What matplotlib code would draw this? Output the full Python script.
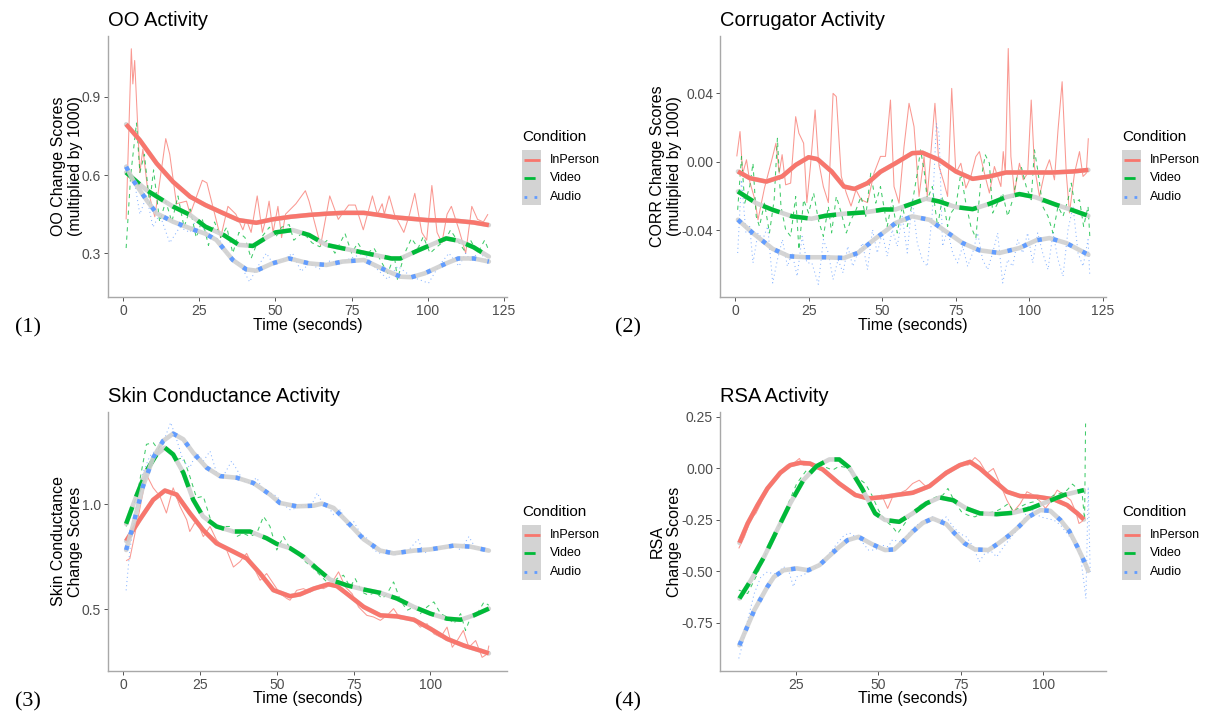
import matplotlib
matplotlib.use("Agg")
import matplotlib.pyplot as plt
from matplotlib.lines import Line2D
from matplotlib.patches import Rectangle

plt.rcParams['font.family'] = ['Liberation Sans', 'DejaVu Sans']

W, H = 1207, 718

conditions = ["InPerson", "Video", "Audio"]
colors = {"InPerson": "#F8766D", "Video": "#00BA38", "Audio": "#619CFF"}

# ---- panel 1: OO (time, value) vertices ----
oo_raw_inperson = [(1,0.43),(2.7,1.085),(3.2,0.95),(3.8,1.04),(5.5,0.61),(6.5,0.70),(8,0.55),(10.4,0.44),(14,0.74),(15.3,0.68),(17.5,0.49),(20.8,0.50),(22,0.45),(26,0.58),(27.5,0.57),(32,0.36),(34.4,0.48),(37,0.45),(39.3,0.39),(40.4,0.43),(42,0.38),(44,0.52),(45.7,0.38),(47,0.44),(47.9,0.50),(49.2,0.38),(50.8,0.48),(52,0.36),(53.3,0.45),(56.7,0.49),(59.8,0.54),(61,0.50),(64.8,0.33),(67.8,0.52),(70.6,0.43),(74,0.485),(76.2,0.485),(78.8,0.39),(81.8,0.52),(83.4,0.45),(85,0.49),(85.7,0.45),(87.3,0.52),(89,0.45),(92.1,0.38),(94,0.45),(95.7,0.53),(98,0.38),(99.6,0.35),(101.3,0.56),(103,0.38),(104.6,0.34),(106.3,0.45),(107.7,0.48),(110.2,0.39),(112.4,0.30),(114.4,0.48),(116.3,0.43),(118.2,0.42),(119.7,0.45)]
oo_raw_video = [(1,0.32),(2.5,0.60),(4.4,0.80),(5.5,0.61),(7,0.68),(8.7,0.49),(10,0.62),(12,0.42),(14,0.50),(16,0.42),(18,0.52),(20,0.40),(22,0.47),(24,0.36),(26,0.43),(28,0.33),(30,0.42),(32,0.36),(34,0.40),(36,0.30),(38,0.38),(40,0.36),(42,0.28),(44,0.34),(46,0.37),(48,0.40),(50,0.36),(52,0.40),(54.5,0.41),(56,0.35),(59,0.38),(62,0.34),(64.5,0.325),(67,0.35),(69.5,0.30),(72.8,0.376),(75,0.30),(77,0.34),(79.5,0.294),(82.3,0.32),(84.6,0.27),(86.8,0.223),(89,0.29),(90,0.20),(92.4,0.30),(94.6,0.357),(96.8,0.32),(98.5,0.364),(100.7,0.30),(103,0.325),(105.7,0.35),(107.4,0.389),(109.6,0.35),(112,0.31),(114,0.35),(116.3,0.30),(118.6,0.35),(120,0.31)]
oo_raw_audio = [(1,0.64),(3.8,0.57),(5.5,0.45),(7.7,0.52),(9.8,0.40),(12,0.45),(15.3,0.34),(18.6,0.40),(21.9,0.38),(24,0.43),(27.3,0.38),(31.7,0.35),(33.9,0.30),(38.3,0.26),(41.5,0.19),(43.7,0.24),(47,0.30),(49.2,0.26),(52.2,0.27),(55.6,0.30),(58.4,0.23),(61,0.26),(64.5,0.24),(67.8,0.27),(71.2,0.26),(74.5,0.28),(79,0.30),(82.3,0.25),(86.8,0.20),(90.1,0.25),(94.6,0.21),(100.2,0.185),(103.5,0.25),(106.9,0.30),(110.2,0.25),(112.4,0.30),(114.1,0.27),(116.9,0.31),(119.7,0.26)]
oo_fit_inperson = [(1,0.795),(5.5,0.734),(11,0.645),(16.4,0.574),(22,0.517),(27,0.485),(33,0.453),(38,0.427),(43.7,0.417),(49,0.43),(55,0.44),(61,0.447),(67,0.452),(72,0.455),(79,0.455),(84,0.447),(89,0.438),(95,0.432),(100,0.427),(105,0.426),(109,0.425),(115,0.418),(120,0.408)]
oo_fit_video = [(1,0.61),(7.7,0.542),(16.4,0.479),(22,0.447),(27,0.402),(33,0.37),(38,0.332),(42.6,0.328),(47,0.36),(50,0.38),(55.6,0.389),(61,0.37),(66.7,0.332),(72,0.319),(81,0.297),(88,0.28),(91,0.28),(97,0.312),(106,0.357),(110,0.348),(115,0.323),(120,0.287)]
oo_fit_audio = [(1,0.632),(3.3,0.58),(7.7,0.504),(11,0.453),(16.4,0.421),(23.5,0.389),(27,0.375),(30.6,0.351),(36,0.274),(40.4,0.238),(43.7,0.233),(49,0.261),(54.5,0.28),(61,0.261),(66.7,0.255),(72,0.268),(79,0.274),(87,0.23),(91,0.21),(94.6,0.208),(99,0.223),(106,0.261),(110,0.28),(115,0.28),(120,0.268)]

# ---- panel 2: Corrugator ----
corr_raw_inperson = [(0.6,0.003),(1.7,0.0175),(2.6,-0.007),(3.9,0.001),(5,-0.0117),(6.7,-0.022),(7.8,-0.034),(10,-0.0155),(12.2,-0.001),(13.9,0.0107),(15,-0.0068),(16,0.004),(17.2,-0.0136),(18.9,-0.0126),(20.6,0.0262),(21.7,0.0165),(23.3,0.0107),(24.4,-0.024),(25.6,-0.003),(27.2,0.0301),(28.3,0.001),(30,-0.0146),(31.7,-0.024),(33.3,0.0398),(34.4,0.0379),(36.1,-0.0087),(37.8,-0.0184),(39.4,-0.026),(41.1,-0.0165),(42.8,-0.0223),(45,-0.024),(47.2,-0.0068),(49.4,0.003),(51.1,0.003),(52.8,0.0359),(54,-0.0146),(55.7,-0.0243),(57.4,0.0087),(59.1,0.034),(60.8,0.0204),(62.5,-0.0204),(64.2,0.0029),(65.3,-0.0204),(67.9,0.034),(69.3,-0.0029),(71,-0.0126),(72.2,-0.0204),(73.6,0.0427),(75,-0.0068),(76.7,-0.001),(78.4,-0.0155),(80.1,-0.0087),(81.8,0.0029),(83,0.0058),(84.7,-0.0068),(86.4,-0.0184),(88.1,-0.0029),(90.3,-0.0146),(91.1,0.0058),(91.8,-0.0068),(92.8,0.066),(93.7,0.0029),(94.9,-0.0184),(96.6,-0.001),(97.9,-0.0107),(99.4,-0.0068),(100.6,0.0359),(101.7,-0.0029),(103.4,-0.0204),(105.1,-0.0068),(106.8,0.001),(108.5,-0.0107),(109.7,0.0184),(111.1,0.0466),(112.5,-0.0068),(113.6,-0.03),(115.3,-0.0068),(117,0.0058),(118.2,-0.0087),(119.3,-0.0068),(120,0.0136)]
corr_raw_video = [(0.9,-0.0282),(2.2,0.0029),(3.3,-0.0243),(5,-0.0146),(6.1,-0.001),(7.2,-0.032),(8.3,-0.0379),(10,-0.0243),(11.7,-0.0417),(13.3,-0.0223),(14.4,0.0136),(15.6,-0.0262),(17.2,-0.0398),(18.9,-0.0437),(20.6,-0.0204),(21.7,-0.0515),(23.3,-0.0223),(25,-0.0301),(26.7,-0.0184),(28.3,-0.034),(30,-0.0437),(31.7,-0.0262),(32.8,-0.0417),(34.4,-0.0204),(36.1,-0.0301),(37.8,-0.0417),(39.4,-0.034),(41.1,-0.0282),(42.8,-0.0204),(44.4,-0.032),(46.1,-0.0068),(47.8,-0.0243),(49.4,-0.0146),(51.7,-0.0379),(53.4,-0.0223),(55.1,-0.0417),(56.8,-0.0262),(58.5,-0.0379),(60.2,-0.0243),(61.9,-0.0068),(63,0.0068),(64.2,-0.0049),(65.3,-0.0223),(67,-0.0146),(68.8,-0.0379),(70.5,-0.0204),(72.2,-0.0379),(73.3,-0.0301),(75,-0.0262),(76.7,-0.0068),(78.4,-0.0243),(80.1,-0.0379),(81.8,-0.0447),(83.5,-0.0107),(85,0.0039),(86.4,-0.001),(87.5,-0.0301),(89.2,-0.0243),(90.9,-0.0184),(92.6,-0.032),(94.3,-0.0223),(96,-0.0068),(97.2,-0.0029),(98.9,-0.0146),(100.6,-0.0223),(101.7,0.0068),(102.8,-0.0049),(104.5,-0.0262),(106.3,-0.032),(108,-0.0417),(109.7,-0.0262),(111.4,-0.032),(113.1,-0.0223),(114.2,-0.0126),(115.3,-0.0243),(117,-0.0223),(118.4,-0.0379),(119.9,-0.0262),(120.5,-0.0437)]
corr_raw_audio = [(0.9,-0.0534),(2.2,-0.0107),(3.7,-0.0417),(5,-0.0379),(6.1,-0.0592),(7.8,-0.0417),(9.4,-0.0456),(11.1,-0.0379),(12.8,-0.0709),(14.4,-0.0573),(16.1,-0.0456),(17.8,-0.0612),(19.4,-0.0534),(21.1,-0.067),(22.8,-0.0437),(24.4,-0.0592),(26.1,-0.0592),(28.3,-0.0718),(30,-0.0456),(31.7,-0.0534),(33.3,-0.0689),(35,-0.0573),(36.7,-0.065),(38.3,-0.0495),(40,-0.0612),(41.7,-0.0534),(43.3,-0.0476),(45,-0.0631),(46.7,-0.0398),(48.3,-0.0534),(50,-0.0417),(51.7,-0.0553),(53.4,-0.0398),(55.1,-0.0495),(56.8,-0.032),(58.5,-0.0534),(60.2,-0.0223),(61.9,-0.0476),(63.6,-0.0573),(65.3,-0.0612),(67,-0.0301),(68.4,0.0223),(69.3,0.0165),(70.5,-0.0495),(72.2,-0.0398),(73.9,-0.0534),(75.6,-0.0592),(77.3,-0.0495),(79,-0.0612),(80.7,-0.0534),(82.4,-0.0417),(84.1,-0.0573),(85.8,-0.0631),(87.5,-0.0534),(89.2,-0.0417),(90.9,-0.0709),(92.6,-0.0573),(94.3,-0.0612),(96,-0.0456),(97.7,-0.0534),(99.4,-0.0417),(101.1,-0.0592),(102.8,-0.0417),(104.5,-0.0534),(106.3,-0.0631),(108,-0.0417),(109.7,-0.0573),(111.4,-0.067),(113.1,-0.0398),(114.8,-0.0262),(116.5,-0.0534),(118.2,-0.0612),(119.9,-0.0456),(120.5,-0.067)]
corr_fit_inperson = [(1,-0.0058),(5,-0.0097),(10.6,-0.0117),(16,-0.0087),(20.6,-0.002),(25,0.0025),(28,0.0014),(32.8,-0.0058),(37,-0.0146),(40.6,-0.016),(45,-0.0126),(49.4,-0.006),(54.5,-0.001),(60.2,0.0049),(63.6,0.0052),(69.3,0.001),(75,-0.0058),(80.7,-0.0101),(86.4,-0.0087),(92,-0.0064),(100,-0.0064),(108,-0.0064),(114.8,-0.0058),(120,-0.0049)]
corr_fit_video = [(1,-0.0175),(7.2,-0.0243),(12.8,-0.0282),(19.4,-0.032),(26,-0.0334),(30.6,-0.0317),(37,-0.0305),(44,-0.0297),(50.5,-0.028),(54.5,-0.028),(60,-0.0247),(64.8,-0.0217),(69.3,-0.0233),(75,-0.0266),(80.7,-0.0278),(86.4,-0.0247),(92,-0.0208),(96.6,-0.019),(102,-0.0208),(109,-0.0252),(114.8,-0.0285),(120,-0.0317)]
corr_fit_audio = [(1,-0.034),(6,-0.0417),(12.8,-0.051),(18.3,-0.0553),(24,-0.0559),(30.6,-0.0559),(37,-0.0563),(41.7,-0.0534),(47.2,-0.0456),(51.7,-0.0398),(54.5,-0.0359),(60.2,-0.032),(66,-0.034),(71.6,-0.0408),(77.3,-0.0476),(83,-0.0518),(89.8,-0.0534),(96.6,-0.0505),(102.3,-0.046),(106.8,-0.0447),(112.5,-0.0476),(120,-0.0544)]

# ---- panel 3: skin conductance ----
sc_raw_inperson = [(1,0.73),(2.2,0.74),(4.3,0.89),(7.6,1.14),(9.8,1.077),(12,1.037),(14.1,0.957),(16.3,1.077),(18.5,0.989),(20.7,0.925),(21.7,0.869),(23.9,0.925),(26.1,0.845),(28.3,0.893),(30.4,0.829),(33.7,0.781),(35.9,0.70),(38,0.725),(40.2,0.765),(42.4,0.701),(44.6,0.637),(46.7,0.669),(48.9,0.621),(51.1,0.573),(53.3,0.55),(54.3,0.542),(56.5,0.589),(58.7,0.597),(60.9,0.581),(63,0.605),(65.2,0.597),(67.4,0.613),(70.1,0.677),(72.3,0.605),(74.5,0.573),(76.6,0.51),(79.3,0.47),(81.5,0.462),(83.7,0.446),(85.9,0.47),(88,0.502),(90.2,0.454),(92.4,0.462),(94.6,0.446),(96.7,0.414),(98.9,0.43),(101.1,0.382),(103.3,0.366),(105.4,0.414),(107.1,0.318),(108.7,0.35),(110.7,0.398),(112.5,0.318),(114.7,0.35),(116.8,0.27),(118.5,0.286),(119,0.326)]
sc_raw_video = [(1,0.893),(2.7,0.957),(4.9,1.069),(7.6,1.284),(9.8,1.292),(11.4,1.26),(13,1.30),(15.2,1.244),(17.4,1.212),(19.6,1.22),(21.7,1.133),(23.9,1.029),(26.1,1.037),(28.3,0.933),(30.4,0.885),(32.6,0.893),(34.8,0.893),(37,0.845),(39.1,0.861),(41.3,0.845),(43.5,0.861),(45.7,0.941),(47.8,0.893),(50,0.781),(52.2,0.845),(54.3,0.789),(56.5,0.765),(58.7,0.733),(61.9,0.693),(65.2,0.645),(67.4,0.613),(69.6,0.645),(71.7,0.661),(73.9,0.605),(75.5,0.645),(77.7,0.581),(79.9,0.565),(82.1,0.581),(84.3,0.55),(85.9,0.573),(88,0.629),(90.2,0.542),(92.4,0.494),(94.6,0.51),(96.7,0.478),(98.9,0.51),(101.1,0.534),(103.3,0.478),(105.4,0.462),(107.6,0.43),(109.8,0.478),(111.4,0.398),(113.1,0.462),(115.2,0.478),(117.4,0.533),(119,0.518)]
sc_raw_audio = [(1,0.589),(2.2,0.781),(4.3,0.981),(6.5,1.149),(8.7,1.228),(10.9,1.26),(13,1.292),(15.5,1.388),(17.4,1.308),(19.6,1.204),(21.7,1.173),(23.9,1.244),(26.1,1.204),(28.3,1.252),(30.4,1.149),(32.6,1.133),(35.3,1.204),(37,1.165),(39.1,1.109),(41.3,1.10),(43.5,1.125),(45.7,1.061),(47.8,1.053),(50,1.037),(52.2,0.997),(54.3,0.973),(56.5,0.981),(58.7,0.997),(60.9,0.981),(63.2,1.053),(64.8,1.005),(66.3,0.997),(68.5,0.949),(70.7,0.973),(72.8,0.901),(75,0.917),(77.2,0.861),(79.3,0.837),(81.5,0.781),(83.7,0.765),(85.9,0.773),(88,0.757),(90.2,0.765),(92.9,0.781),(96,0.832),(97.8,0.765),(100,0.781),(102.2,0.797),(105.4,0.789),(107.6,0.805),(109.8,0.781),(112.5,0.845),(114.7,0.789),(116.8,0.789),(119,0.773)]
sc_fit_inperson = [(1,0.824),(5.4,0.925),(9.8,1.02),(13.6,1.064),(17.4,1.045),(21.7,0.957),(26,0.877),(30.4,0.813),(35.9,0.773),(40.2,0.741),(44.6,0.669),(48.9,0.59),(54.3,0.561),(57.6,0.57),(62,0.597),(66.8,0.618),(69.6,0.609),(72.8,0.573),(78.3,0.51),(83.7,0.47),(89.1,0.465),(94.6,0.449),(100,0.406),(105.4,0.358),(110.9,0.326),(116.3,0.302),(119,0.289)]
sc_fit_video = [(1,0.906),(4.3,1.037),(7.6,1.157),(10.9,1.236),(13.6,1.268),(16.3,1.236),(19.6,1.149),(22.8,1.021),(26,0.941),(30.4,0.893),(35.9,0.869),(41.3,0.869),(46.7,0.837),(50,0.81),(54.3,0.79),(58.7,0.749),(63,0.693),(67.4,0.64),(72.8,0.613),(78.3,0.593),(83.7,0.577),(89.1,0.55),(94.6,0.51),(100,0.478),(105.4,0.454),(109.8,0.449),(114.1,0.47),(119,0.502)]
sc_fit_audio = [(1,0.781),(3.3,0.901),(6.5,1.085),(9.8,1.22),(13,1.30),(16.3,1.335),(19.6,1.308),(22.8,1.244),(27.2,1.173),(31.5,1.133),(37,1.125),(42.4,1.10),(47.8,1.045),(51,1.005),(56.5,0.989),(62,0.992),(64.7,1.002),(68.5,0.981),(72.8,0.917),(78.3,0.832),(83.7,0.778),(88,0.765),(94.6,0.778),(100,0.784),(107.6,0.802),(113,0.797),(119,0.778)]

# ---- panel 4: RSA ----
rsa_raw_inperson = [(7.6,-0.388),(9.3,-0.332),(11.3,-0.243),(12.8,-0.218),(14.3,-0.17),(16.3,-0.089),(18.3,-0.057),(20.2,-0.016),(22.2,0.016),(24.2,0.024),(26,0.0486),(27.2,0.016),(29.2,0.016),(31.2,0.0),(33.1,-0.011),(35.1,-0.032),(37.1,-0.057),(39.1,-0.089),(41.1,-0.113),(43.1,-0.129),(45,-0.146),(47,-0.134),(49,-0.146),(51,-0.129),(52.8,-0.194),(54.3,-0.138),(56.3,-0.121),(58.4,-0.105),(60.4,-0.073),(62.4,-0.057),(64.5,-0.089),(66.5,-0.065),(68.6,-0.04),(70.6,-0.032),(72.1,-0.016),(73.7,0.011),(75.7,0.024),(77.2,0.016),(79.3,0.053),(80.8,0.032),(82.9,-0.024),(84.9,0.0),(86.9,-0.073),(89,-0.154),(91,-0.21),(93.1,-0.17),(95.1,-0.113),(97.1,-0.129),(99.2,-0.162),(100.7,-0.194),(102.2,-0.162),(104.3,-0.105),(106.3,-0.129),(108.4,-0.154),(109.9,-0.21),(110.9,-0.267),(112.4,-0.251)]
rsa_raw_video = [(7.6,-0.59),(10.3,-0.607),(13.3,-0.51),(16.3,-0.396),(19.2,-0.299),(22.2,-0.186),(25.2,-0.073),(28.2,-0.008),(30.2,-0.011),(32.1,0.0),(34.1,0.005),(36.1,-0.008),(38.1,0.011),(40.1,0.005),(42.1,-0.024),(44,-0.049),(46,-0.073),(48,-0.129),(50,-0.202),(52,-0.251),(54.3,-0.283),(55.8,-0.316),(57.3,-0.283),(59.4,-0.235),(61.4,-0.194),(63.5,-0.17),(65.5,-0.154),(67.6,-0.138),(69.6,-0.129),(71.1,-0.097),(73.2,-0.162),(75.2,-0.21),(77.2,-0.227),(79.3,-0.235),(81.3,-0.218),(83.4,-0.215),(85.4,-0.21),(87.4,-0.194),(89.5,-0.17),(91,-0.21),(93.1,-0.186),(95.1,-0.17),(97.1,-0.162),(99.2,-0.138),(101.2,-0.154),(103.3,-0.129),(105.3,-0.121),(107.3,-0.105),(108.9,-0.076),(110.4,-0.097),(111.9,-0.129),(112.6,-0.25),(112.9,0.218)]
rsa_raw_audio = [(7.6,-0.922),(8.8,-0.85),(10.3,-0.736),(12.3,-0.607),(14.3,-0.526),(16.3,-0.502),(17.8,-0.51),(19.2,-0.51),(21.2,-0.477),(22.7,-0.494),(24.2,-0.574),(25.2,-0.526),(27.2,-0.518),(29.2,-0.494),(31.2,-0.477),(33.1,-0.453),(35.1,-0.413),(37.1,-0.372),(39.1,-0.332),(41.1,-0.312),(43.1,-0.332),(45,-0.356),(47,-0.396),(49,-0.396),(51,-0.372),(53,-0.38),(54.3,-0.345),(56.3,-0.356),(58.4,-0.332),(60.4,-0.291),(62.4,-0.267),(64.5,-0.248),(66.5,-0.235),(68.6,-0.259),(70.6,-0.235),(72.7,-0.283),(74.7,-0.316),(76.7,-0.332),(78.8,-0.38),(80.6,-0.453),(82.3,-0.413),(84.4,-0.405),(85.9,-0.429),(88,-0.38),(90,-0.34),(92,-0.299),(94.1,-0.251),(95.6,-0.178),(97.1,-0.21),(99.2,-0.235),(101.2,-0.243),(103.3,-0.251),(105.3,-0.275),(107.3,-0.316),(109.4,-0.356),(111.4,-0.429),(113,-0.631),(113.7,-0.089),(114.3,-0.502)]
rsa_fit_inperson = [(7.8,-0.361),(10.3,-0.267),(13.3,-0.178),(16.3,-0.097),(20.2,-0.021),(23.2,0.016),(26.2,0.0275),(29.2,0.024),(33.1,-0.005),(38.1,-0.073),(43,-0.129),(47,-0.146),(52,-0.1375),(55.3,-0.129),(60.4,-0.118),(65.5,-0.086),(70.6,-0.021),(74.7,0.016),(77.8,0.032),(80.8,0.0),(84.9,-0.057),(89,-0.113),(93,-0.134),(98.2,-0.1375),(103.3,-0.15),(107.3,-0.178),(110.4,-0.218),(112.4,-0.248)]
rsa_fit_video = [(7.8,-0.631),(11.3,-0.542),(15.3,-0.429),(19.2,-0.30),(23.2,-0.17),(27.2,-0.057),(31.2,0.011),(35.1,0.0437),(38.1,0.0437),(41.1,0.005),(45,-0.097),(49,-0.218),(52,-0.25),(56.3,-0.259),(60.4,-0.218),(64.5,-0.17),(68.6,-0.141),(72.7,-0.154),(76.7,-0.194),(80.8,-0.218),(85.9,-0.222),(91,-0.215),(96.1,-0.194),(101.2,-0.162),(106.3,-0.129),(112.4,-0.105)]
rsa_fit_audio = [(7.8,-0.858),(9.3,-0.801),(12.3,-0.688),(14.3,-0.631),(16.3,-0.574),(18.3,-0.526),(21.2,-0.494),(25.2,-0.485),(28.7,-0.494),(32.1,-0.469),(34.6,-0.432),(37.6,-0.388),(40.6,-0.348),(44,-0.332),(48,-0.367),(52,-0.396),(54.8,-0.393),(57.9,-0.348),(60.4,-0.307),(63.5,-0.264),(66.5,-0.243),(70.6,-0.27),(73.2,-0.316),(76.2,-0.364),(79.3,-0.393),(83.4,-0.396),(86.4,-0.364),(89.5,-0.327),(92.6,-0.283),(95.6,-0.235),(99.2,-0.202),(102.2,-0.206),(105.3,-0.251),(107.9,-0.303),(110.4,-0.38),(113,-0.469),(113.7,-0.497)]

raw_styles = {"InPerson": (0, ()), "Video": (0, (4, 4)), "Audio": (0, (1, 3))}
fit_styles = {"InPerson": (0, ()), "Video": (0, (4, 2.5)), "Audio": (0, (1, 2.6))}

fig = plt.figure(figsize=(W / 100, H / 100), dpi=100)


def fx(x):
    return x / W


def fy(y):
    return 1 - y / H


def draw_panel(box, raws, fits, xlim, ylim, xticks, yticks, ylabels,
               title, ylab, ylab_x, panel_no, legend_pos):
    left, top, right, bottom = box
    ax = fig.add_axes([fx(left), fy(bottom), (right - left) / W, (bottom - top) / H])
    for cond, pts in zip(conditions, raws):
        t, v = zip(*pts)
        ax.plot(t, v, color=colors[cond], lw=0.75, alpha=0.75, linestyle=raw_styles[cond])
    for cond, pts in zip(conditions, fits):
        t, v = zip(*pts)
        ax.plot(t, v, color="#D0D0D0", lw=3.3, alpha=0.9, solid_capstyle="round")
        ax.plot(t, v, color=colors[cond], lw=3.2, linestyle=fit_styles[cond],
                dash_capstyle="butt", solid_capstyle="round")
    ax.set_xlim(*xlim)
    ax.set_ylim(*ylim)
    ax.set_xticks(xticks, labels=[str(x) for x in xticks])
    ax.set_yticks(yticks, labels=ylabels)
    for s in ("top", "right"):
        ax.spines[s].set_visible(False)
    for s in ("left", "bottom"):
        ax.spines[s].set_color("#A8A8A8")
        ax.spines[s].set_linewidth(1.0)
    ax.tick_params(length=3, width=0.7, color="#555555", labelcolor="#4D4D4D",
                   labelsize=10, pad=2)
    ax.patch.set_alpha(0)

    fig.text(fx(left), fy(top - 16), title, fontsize=14.5, ha="left", va="center")
    fig.text(fx((left + right) / 2), fy(bottom + 28), "Time (seconds)",
             fontsize=11.5, ha="center", va="center")
    fig.text(fx(ylab_x), fy((top + bottom) / 2), ylab, fontsize=11.5,
             rotation=90, ha="center", va="center", multialignment="center",
             linespacing=1.15)
    fig.text(fx(28 + (left - 108) - (0 if left < 600 else 12)), fy(bottom + 31), panel_no,
             fontsize=16, family=["Liberation Serif", "DejaVu Serif"],
             ha="center", va="center")

    # legend
    lx, ly = legend_pos
    fig.text(fx(lx), fy(ly), "Condition", fontsize=11, ha="left", va="center")
    ktop = ly + 13
    fig.add_artist(Rectangle((fx(lx), fy(ktop + 55)), 19 / W, 55 / H,
                             transform=fig.transFigure, facecolor="#D3D3D3",
                             edgecolor="none"))
    for i, cond in enumerate(conditions):
        yc = ktop + 10 + i * 18.3
        fig.add_artist(Line2D([fx(lx + 1.5), fx(lx + 17.5)], [fy(yc), fy(yc)],
                              transform=fig.transFigure, color=colors[cond],
                              lw=2.0, linestyle=fit_styles[cond],
                              dash_capstyle="butt"))
        fig.text(fx(lx + 28), fy(yc), cond, fontsize=9, ha="left", va="center")
    return ax


draw_panel((108, 36, 507, 297),
           [oo_raw_inperson, oo_raw_video, oo_raw_audio],
           [oo_fit_inperson, oo_fit_video, oo_fit_audio],
           (-4.95, 125.95), (0.132, 1.134), [0, 25, 50, 75, 100, 125],
           [0.3, 0.6, 0.9], ["0.3", "0.6", "0.9"],
           "OO Activity", "OO Change Scores\n(multiplied by 1000)", 67, "(1)",
           (522, 137))

draw_panel((720, 36, 1106, 297),
           [corr_raw_inperson, corr_raw_video, corr_raw_audio],
           [corr_fit_inperson, corr_fit_video, corr_fit_audio],
           (-5.1, 126.0), (-0.0791, 0.0733), [0, 25, 50, 75, 100, 125],
           [-0.04, 0.0, 0.04], ["-0.04", "0.00", "0.04"],
           "Corrugator Activity", "CORR Change Scores\n(multiplied by 1000)", 666, "(2)",
           (1122, 137))

draw_panel((108, 412, 507, 671),
           [sc_raw_inperson, sc_raw_video, sc_raw_audio],
           [sc_fit_inperson, sc_fit_video, sc_fit_audio],
           (-4.9, 124.9), (0.205, 1.438), [0, 25, 50, 75, 100],
           [0.5, 1.0], ["0.5", "1.0"],
           "Skin Conductance Activity", "Skin Conductance\nChange Scores", 67, "(3)",
           (522, 512))

draw_panel((720, 412, 1106, 671),
           [rsa_raw_inperson, rsa_raw_video, rsa_raw_audio],
           [rsa_fit_inperson, rsa_fit_video, rsa_fit_audio],
           (1.9, 119.1), (-0.983, 0.274), [25, 50, 75, 100],
           [-0.75, -0.5, -0.25, 0.0, 0.25], ["-0.75", "-0.50", "-0.25", "0.00", "0.25"],
           "RSA Activity", "RSA\nChange Scores", 666, "(4)",
           (1122, 512))

fig.savefig("out.png", dpi=100)
